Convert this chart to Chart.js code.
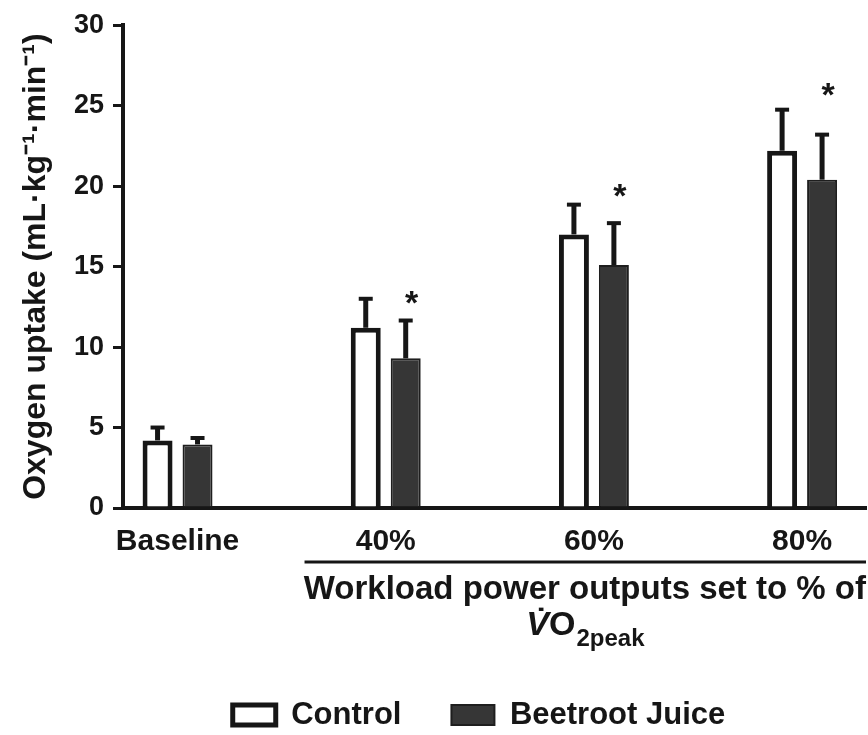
<!DOCTYPE html>
<html>
<head>
<meta charset="utf-8">
<script src="https://cdn.jsdelivr.net/npm/chart.js@4.4.1/dist/chart.umd.min.js"></script>
<style>
  html, body { margin: 0; padding: 0; background: #fff; }
  #wrap { width: 868px; height: 735px; }
</style>
</head>
<body>
<div id="wrap"><canvas id="vo2Chart"></canvas></div>
<script>
// values (mL/kg/min), mean and SD
const categories = ['Baseline', '40%', '60%', '80%'];
const groupPos = [0, 1, 2, 3];
const controlMean = [4.2, 11.2, 17.0, 22.2];
const controlSD = [0.8, 1.8, 1.85, 2.55];
const beetrootMean = [3.95, 9.3, 15.1, 20.4];
const beetrootSD = [0.4, 2.35, 2.6, 2.8];
const starAt = [null, 13.3, 19.9, 26.2];
const yTicks = [0, 5, 10, 15, 20, 25, 30];

const family = "'Liberation Sans', Arial, sans-serif";
const ink = '#161616';
const beetFill = '#363636';
const plotBottom = 508;

Chart.defaults.font.family = family;
Chart.defaults.font.weight = 'bold';
Chart.defaults.color = ink;

const errorBars = {
    id: 'errorBars',
    afterDatasetsDraw(chart) {
        const ctx = chart.ctx;
        const y = chart.scales.y;
        const sds = [controlSD, beetrootSD];
        ctx.save();
        ctx.strokeStyle = ink;
        ctx.fillStyle = ink;
        chart.data.datasets.forEach((ds, i) => {
            chart.getDatasetMeta(i).data.forEach((bar, j) => {
                const v = ds.data[j].y;
                const top = y.getPixelForValue(v);
                const end = y.getPixelForValue(v + sds[i][j]);
                ctx.lineWidth = 5;
                ctx.beginPath();
                ctx.moveTo(bar.x, top);
                ctx.lineTo(bar.x, end);
                ctx.stroke();
                ctx.lineWidth = 4;
                ctx.beginPath();
                ctx.moveTo(bar.x - 7, end);
                ctx.lineTo(bar.x + 7, end);
                ctx.stroke();
            });
        });
        // significance marks over beetroot bars
        ctx.font = 'bold 34px ' + family;
        ctx.textAlign = 'center';
        ctx.textBaseline = 'alphabetic';
        chart.getDatasetMeta(1).data.forEach((bar, j) => {
            if (starAt[j] == null) return;
            ctx.fillText('*', bar.x + 6, y.getPixelForValue(starAt[j]) + 0.58 * 34);
        });
        ctx.restore();
    }
};

const axisNotes = {
    id: 'axisNotes',
    afterDraw(chart) {
        const ctx = chart.ctx;
        const x = chart.scales.x;
        const right = chart.chartArea.right;
        ctx.save();
        // rule under the workload groups
        const lineY = x.top + 54;
        ctx.strokeStyle = ink;
        ctx.lineWidth = 3;
        ctx.beginPath();
        ctx.moveTo(x.getPixelForValue(groupPos[1] - 0.39), lineY);
        ctx.lineTo(right, lineY);
        ctx.stroke();

        // second title line: VO2peak with dot and subscript
        ctx.font = 'bold 33px ' + family;
        const titleW = ctx.measureText(x.options.title.text).width;
        const cx = right - titleW / 2;
        const big = 'bold 34px ' + family;
        const bigIt = 'italic bold 34px ' + family;
        const small = 'bold 24px ' + family;
        ctx.font = bigIt; const wV = ctx.measureText('V').width;
        ctx.font = big; const wO = ctx.measureText('O').width;
        ctx.font = small; const wS = ctx.measureText('2peak').width;
        let px = cx - (wV + wO + wS) / 2;
        const base = x.top + 127;
        ctx.fillStyle = ink;
        ctx.textAlign = 'left';
        ctx.textBaseline = 'alphabetic';
        ctx.font = bigIt;
        ctx.fillText('V', px, base);
        ctx.font = big;
        ctx.textAlign = 'center';
        ctx.fillText('\u02D9', px + wV * 0.66, base - 3);
        ctx.textAlign = 'left';
        px += wV;
        ctx.fillText('O', px, base);
        px += wO;
        ctx.font = small;
        ctx.fillText('2peak', px + 1, base + 11);
        ctx.restore();
    }
};

const legendShift = {
    id: 'legendShift',
    afterLayout(chart) {
        const lg = chart.legend;
        lg.left += 46; lg.right += 46;
        lg.top += 5.5; lg.bottom += 5.5;
    }
};

new Chart(document.getElementById('vo2Chart'), {
    type: 'bar',
    data: {
        datasets: [
            {
                label: 'Control',
                data: groupPos.map((p, i) => ({ x: p, y: controlMean[i] })),
                backgroundColor: '#ffffff',
                borderColor: ink,
                borderWidth: 5
            },
            {
                label: 'Beetroot Juice',
                data: groupPos.map((p, i) => ({ x: p, y: beetrootMean[i] })),
                backgroundColor: beetFill,
                borderColor: '#1e1e1e',
                borderWidth: 2
            }
        ]
    },
    options: {
        responsive: true,
        maintainAspectRatio: false,
        animation: false,
        categoryPercentage: 0.384,
        barPercentage: 0.75,
        layout: { padding: { top: 22, right: 2, bottom: 0, left: 0 } },
        plugins: {
            tooltip: { enabled: false },
            legend: {
                position: 'bottom',
                labels: {
                    font: { size: 31, weight: 'bold' },
                    boxWidth: 43,
                    boxHeight: 20,
                    padding: 50,
                    color: ink
                }
            }
        },
        scales: {
            x: {
                type: 'linear',
                offset: false,
                min: groupPos[0] - 0.262,
                max: groupPos[3] + 0.307,
                afterBuildTicks: s => { s.ticks = groupPos.map(v => ({ value: v })); },
                afterFit: s => {
                    const lh = s.chart.legend ? s.chart.legend.height : 0;
                    s.height = s.chart.height - plotBottom - lh;
                },
                grid: { display: false, drawTicks: false },
                border: { display: true, color: ink, width: 4 },
                ticks: {
                    autoSkip: false,
                    maxRotation: 0,
                    padding: 16,
                    font: { size: 30, weight: 'bold' },
                    callback: (v, i) => categories[i]
                },
                title: {
                    display: true,
                    text: 'Workload power outputs set to % of',
                    align: 'end',
                    font: { size: 33, weight: 'bold' },
                    padding: { top: 0, bottom: 34 }
                }
            },
            y: {
                min: 0,
                max: 30,
                afterBuildTicks: s => { s.ticks = yTicks.map(v => ({ value: v })); },
                afterFit: s => { s.width = 123; },
                grid: {
                    drawOnChartArea: false,
                    color: ink,
                    lineWidth: 3,
                    tickLength: 10
                },
                border: { display: true, color: ink, width: 4 },
                ticks: {
                    padding: 9,
                    font: { size: 27, weight: 'bold' }
                },
                title: {
                    display: true,
                    text: 'Oxygen uptake (mL\u00B7kg\u207B\u00B9\u00B7min\u207B\u00B9)',
                    font: { size: 32, weight: 'bold' },
                    padding: { top: 17, bottom: 0 }
                }
            }
        }
    },
    plugins: [errorBars, axisNotes, legendShift]
});
</script>
</body>
</html>
